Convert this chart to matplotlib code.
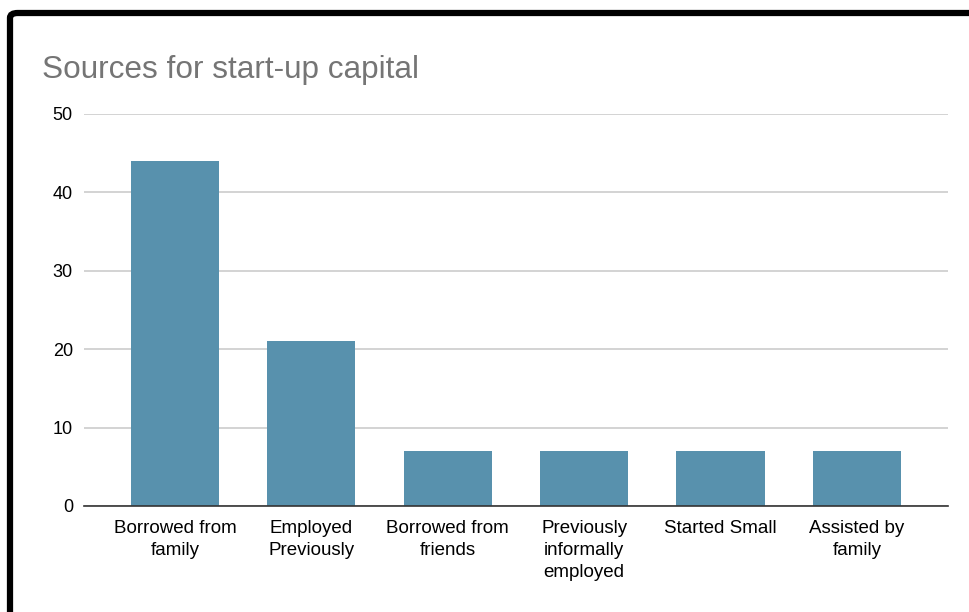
import matplotlib.pyplot as plt
from matplotlib.patches import FancyBboxPatch

categories = ["Borrowed from\nfamily", "Employed\nPreviously", "Borrowed from\nfriends",
              "Previously\ninformally\nemployed", "Started Small", "Assisted by\nfamily"]
counts = [44, 21, 7, 7, 7, 7]
yticks = [0, 10, 20, 30, 40, 50]

plt.rcParams['font.family'] = ['Liberation Sans', 'DejaVu Sans']

fig = plt.figure(figsize=(9.69, 6.12), dpi=100)

# black frame around the card, open on the right and bottom
frame = FancyBboxPatch((10 / 969, -0.2), 1.2, 0.2 + (612 - 13) / 612,
                       boxstyle="round,pad=0,rounding_size=0.008",
                       transform=fig.transFigure, fill=False,
                       edgecolor='black', linewidth=4.5, clip_on=False)
fig.patches.append(frame)

ax = fig.add_axes([84 / 969, (612 - 506) / 612, (948 - 84) / 969, (506 - 114) / 612])

x = range(len(counts))
ax.bar(x, counts, width=0.646, color='#5891ad', zorder=3)

ax.set_xlim(-0.668, len(counts) - 1 + 0.668)
ax.set_ylim(0, 50)
ax.set_yticks(yticks)
ax.set_xticks(list(x))
ax.set_xticklabels(categories, fontsize=13.5, linespacing=1.4)
ax.tick_params(axis='y', labelsize=13, length=0, pad=8)
ax.tick_params(axis='x', length=0, pad=10)

ax.grid(axis='y', color='#cccccc', linewidth=1.2, zorder=0)
for side in ['top', 'right', 'left']:
    ax.spines[side].set_visible(False)
ax.spines['bottom'].set_color('#333333')
ax.spines['bottom'].set_linewidth(1.2)
ax.spines['bottom'].set_zorder(4)

fig.text(42 / 969, 1 - 78 / 612, 'Sources for start-up capital',
         fontsize=22.7, color='#757575', ha='left', va='baseline')

fig.savefig('out.png', dpi=100)
